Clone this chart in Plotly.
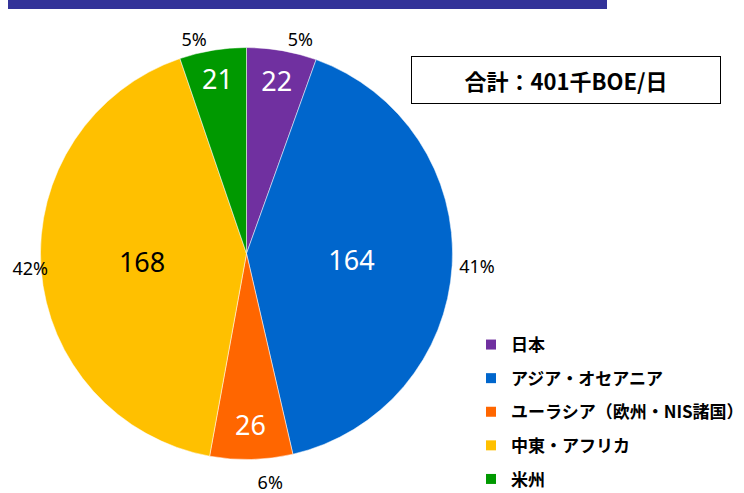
import plotly.graph_objects as go

labels = ["日本", "アジア・オセアニア", "ユーラシア（欧州・NIS諸国）", "中東・アフリカ", "米州"]
values = [22, 164, 26, 168, 21]
colors = ["#7030A0", "#0066CC", "#FF6600", "#FFC000", "#009900"]
value_text_colors = ["white", "white", "white", "black", "white"]
total_label = "合計：401千BOE/日"

FONT = "Noto Sans, DejaVu Sans, sans-serif"
CJK = "Noto Sans CJK JP, sans-serif"

W, H = 744, 493
CX, CY, R = 246.5, 253.5, 206.0   # pie centre / radius in px

def dom(half):
    return dict(x=[(CX - half) / W, (CX + half) / W],
                y=[1 - (CY + half) / H, 1 - (CY - half) / H])

fig = go.Figure()
# main pie with values inside
fig.add_trace(go.Pie(
    labels=labels, values=values, sort=False, direction="clockwise", rotation=0,
    marker=dict(colors=colors, line=dict(color="white", width=0.5)),
    textinfo="value", textposition="inside", insidetextorientation="horizontal",
    insidetextfont=dict(family=FONT, size=27, color=value_text_colors),
    domain=dom(R),
    hoverinfo="label+value+percent", showlegend=False,
))
# transparent overlay pie carrying the outside percentage labels
label_pull = [0.065, 0.073, 0.12, 0.0, 0.065]
base_r = 193.0
fig.add_trace(go.Pie(
    labels=labels, values=values, sort=False, direction="clockwise", rotation=0,
    marker=dict(colors=["rgba(0,0,0,0)"] * len(values), line=dict(width=0)),
    texttemplate="%{percent:.0%}", textposition="outside",
    outsidetextfont=dict(family=FONT, size=18, color="black"),
    pull=label_pull,
    domain=dom(base_r * (1 + max(label_pull))),
    hoverinfo="skip", showlegend=False,
))
# legend entries (square markers), one per category
for i, (lab, col) in enumerate(zip(labels, colors)):
    fig.add_trace(go.Scatter(
        x=[None], y=[None], mode="markers", name=lab,
        marker=dict(symbol="square", size=10, color=col),
        legendgroup=f"g{i}", showlegend=True, hoverinfo="skip",
    ))

fig.update_layout(
    width=W, height=H,
    margin=dict(l=0, r=0, t=0, b=0, autoexpand=False),
    paper_bgcolor="white", plot_bgcolor="white",
    font=dict(family=CJK, color="black"),
    xaxis=dict(visible=False), yaxis=dict(visible=False),
    legend=dict(x=471 / W, y=1 - 327 / H, xanchor="left", yanchor="top",
                font=dict(family=CJK, size=17, color="black", weight="bold"),
                tracegroupgap=8.5, itemwidth=30, traceorder="grouped",
                bgcolor="rgba(0,0,0,0)"),
    shapes=[dict(type="rect", xref="paper", yref="paper",
                 x0=8 / W, x1=607 / W, y0=1 - 9 / H, y1=1.0,
                 fillcolor="#333399", line=dict(width=0))],
    annotations=[dict(text=total_label, xref="paper", yref="paper",
                      x=566 / W, y=1 - 80 / H, xanchor="center", yanchor="middle",
                      showarrow=False,
                      font=dict(family=CJK, size=22, color="black", weight="bold"),
                      bordercolor="black", borderwidth=1, borderpad=7,
                      bgcolor="white", width=294)],
)
fig.write_html("out.html", config={"displayModeBar": False},
               post_script="document.body.style.margin='0';")
